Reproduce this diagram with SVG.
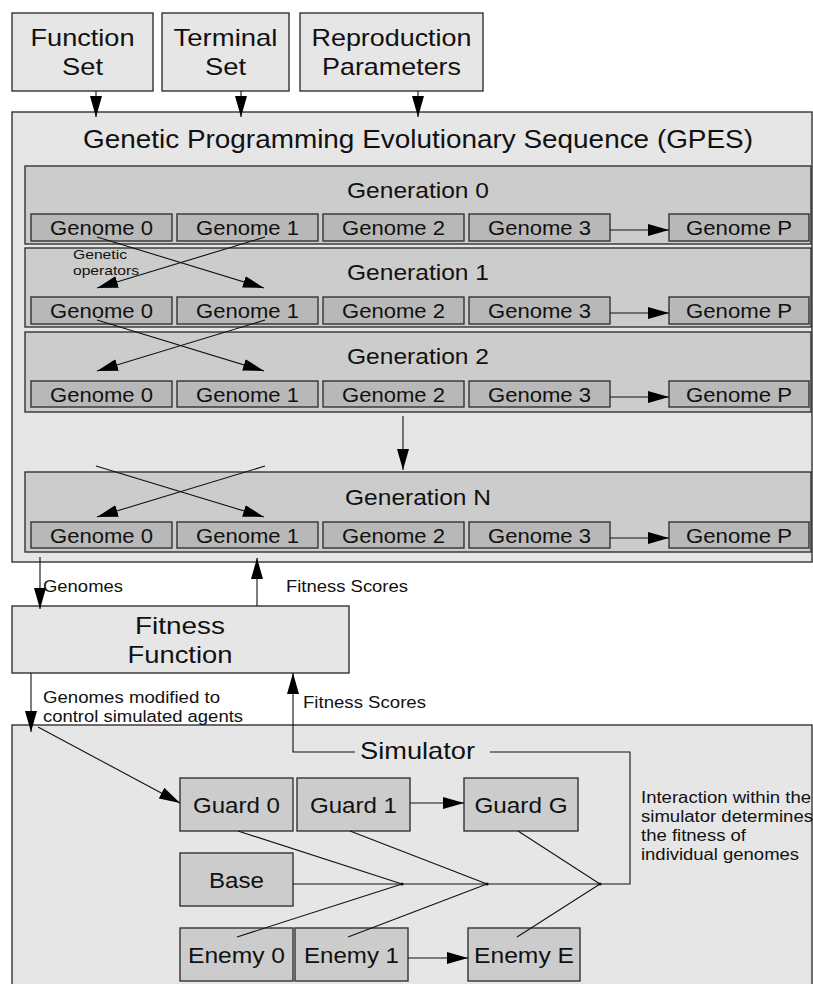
<svg xmlns="http://www.w3.org/2000/svg" width="813" height="984" viewBox="0 0 813 984">
<style>
text{font-family:"Liberation Sans",Arial,sans-serif;fill:#111;}
.box{fill:#e6e6e6;stroke:#333;stroke-width:1.4;}
.gen{fill:#cccccc;stroke:#333;stroke-width:1.4;}
.gnm{fill:#b8b8b8;stroke:#333;stroke-width:1.4;}
.agent{fill:#cccccc;stroke:#333;stroke-width:1.4;}
.t23{font-size:24px;text-anchor:middle;}
.t24{font-size:25px;text-anchor:middle;}
.t21{font-size:22px;text-anchor:middle;}
.t19{font-size:20px;text-anchor:middle;}
.lbl{font-size:16px;}
.small{font-size:13.5px;}
.c{fill:none;stroke:#111;stroke-width:1.1;}
.a{fill:none;stroke:#111;stroke-width:1.1;marker-end:url(#ah);}
</style>
<defs>
<marker id="ah" markerUnits="userSpaceOnUse" markerWidth="21" markerHeight="12" refX="21" refY="6" orient="auto">
<path d="M0,0 L21,6 L0,12 z" fill="#000"/>
</marker>
</defs>
<rect width="813" height="984" fill="#ffffff"/>

<g id="gpes">
<rect class="box" x="12" y="112" width="800" height="450"/>
<text class="t24" x="418" y="148" textLength="670" lengthAdjust="spacingAndGlyphs">Genetic Programming Evolutionary Sequence (GPES)</text>
</g>

<g id="simulator">
<rect class="box" x="12" y="725" width="800" height="270"/>
<text font-size="24" x="360" y="759" textLength="115" lengthAdjust="spacingAndGlyphs">Simulator</text>
</g>

<g id="function-set">
<rect class="box" x="12" y="13" width="141" height="78"/>
<text class="t23" x="82.5" y="46" textLength="104" lengthAdjust="spacingAndGlyphs">Function</text>
<text class="t23" x="82.5" y="75" textLength="41" lengthAdjust="spacingAndGlyphs">Set</text>
</g>
<g id="terminal-set">
<rect class="box" x="162" y="13" width="127" height="78"/>
<text class="t23" x="225.5" y="46" textLength="104" lengthAdjust="spacingAndGlyphs">Terminal</text>
<text class="t23" x="225.5" y="75" textLength="41" lengthAdjust="spacingAndGlyphs">Set</text>
</g>
<g id="reproduction-parameters">
<rect class="box" x="300" y="13" width="183" height="78"/>
<text class="t23" x="391.5" y="46" textLength="160" lengthAdjust="spacingAndGlyphs">Reproduction</text>
<text class="t23" x="391.5" y="75" textLength="139" lengthAdjust="spacingAndGlyphs">Parameters</text>
</g>

<g id="generation-0">
<rect class="gen" x="25" y="166" width="786" height="78"/>
<text class="t21" x="418" y="198" textLength="142" lengthAdjust="spacingAndGlyphs">Generation 0</text>
<rect class="gnm" x="31" y="214" width="141" height="27"/><text class="t19" x="101.5" y="235" textLength="103" lengthAdjust="spacingAndGlyphs">Genome 0</text>
<rect class="gnm" x="177" y="214" width="141" height="27"/><text class="t19" x="247.5" y="235" textLength="103" lengthAdjust="spacingAndGlyphs">Genome 1</text>
<rect class="gnm" x="323" y="214" width="141" height="27"/><text class="t19" x="393.5" y="235" textLength="103" lengthAdjust="spacingAndGlyphs">Genome 2</text>
<rect class="gnm" x="469" y="214" width="141" height="27"/><text class="t19" x="539.5" y="235" textLength="103" lengthAdjust="spacingAndGlyphs">Genome 3</text>
<rect class="gnm" x="669" y="214" width="140" height="27"/><text class="t19" x="739" y="235" textLength="106" lengthAdjust="spacingAndGlyphs">Genome P</text>
</g>

<g id="generation-1">
<rect class="gen" x="25" y="248" width="786" height="79"/>
<text class="t21" x="418" y="280" textLength="142" lengthAdjust="spacingAndGlyphs">Generation 1</text>
<rect class="gnm" x="31" y="297" width="141" height="27"/><text class="t19" x="101.5" y="318" textLength="103" lengthAdjust="spacingAndGlyphs">Genome 0</text>
<rect class="gnm" x="177" y="297" width="141" height="27"/><text class="t19" x="247.5" y="318" textLength="103" lengthAdjust="spacingAndGlyphs">Genome 1</text>
<rect class="gnm" x="323" y="297" width="141" height="27"/><text class="t19" x="393.5" y="318" textLength="103" lengthAdjust="spacingAndGlyphs">Genome 2</text>
<rect class="gnm" x="469" y="297" width="141" height="27"/><text class="t19" x="539.5" y="318" textLength="103" lengthAdjust="spacingAndGlyphs">Genome 3</text>
<rect class="gnm" x="669" y="297" width="140" height="27"/><text class="t19" x="739" y="318" textLength="106" lengthAdjust="spacingAndGlyphs">Genome P</text>
</g>

<g id="generation-2">
<rect class="gen" x="25" y="332" width="786" height="80"/>
<text class="t21" x="418" y="364" textLength="142" lengthAdjust="spacingAndGlyphs">Generation 2</text>
<rect class="gnm" x="31" y="381" width="141" height="26"/><text class="t19" x="101.5" y="401.5" textLength="103" lengthAdjust="spacingAndGlyphs">Genome 0</text>
<rect class="gnm" x="177" y="381" width="141" height="26"/><text class="t19" x="247.5" y="401.5" textLength="103" lengthAdjust="spacingAndGlyphs">Genome 1</text>
<rect class="gnm" x="323" y="381" width="141" height="26"/><text class="t19" x="393.5" y="401.5" textLength="103" lengthAdjust="spacingAndGlyphs">Genome 2</text>
<rect class="gnm" x="469" y="381" width="141" height="26"/><text class="t19" x="539.5" y="401.5" textLength="103" lengthAdjust="spacingAndGlyphs">Genome 3</text>
<rect class="gnm" x="669" y="381" width="140" height="26"/><text class="t19" x="739" y="401.5" textLength="106" lengthAdjust="spacingAndGlyphs">Genome P</text>
</g>

<g id="generation-n">
<rect class="gen" x="25" y="472" width="786" height="80"/>
<text class="t21" x="418" y="505" textLength="146" lengthAdjust="spacingAndGlyphs">Generation N</text>
<rect class="gnm" x="31" y="522" width="141" height="26"/><text class="t19" x="101.5" y="542.5" textLength="103" lengthAdjust="spacingAndGlyphs">Genome 0</text>
<rect class="gnm" x="177" y="522" width="141" height="26"/><text class="t19" x="247.5" y="542.5" textLength="103" lengthAdjust="spacingAndGlyphs">Genome 1</text>
<rect class="gnm" x="323" y="522" width="141" height="26"/><text class="t19" x="393.5" y="542.5" textLength="103" lengthAdjust="spacingAndGlyphs">Genome 2</text>
<rect class="gnm" x="469" y="522" width="141" height="26"/><text class="t19" x="539.5" y="542.5" textLength="103" lengthAdjust="spacingAndGlyphs">Genome 3</text>
<rect class="gnm" x="669" y="522" width="140" height="26"/><text class="t19" x="739" y="542.5" textLength="106" lengthAdjust="spacingAndGlyphs">Genome P</text>
</g>

<g id="fitness-function">
<rect class="box" x="12" y="606" width="337" height="67"/>
<text font-size="24.5" text-anchor="middle" x="180" y="634" textLength="90" lengthAdjust="spacingAndGlyphs">Fitness</text>
<text font-size="24.5" text-anchor="middle" x="180" y="663" textLength="105" lengthAdjust="spacingAndGlyphs">Function</text>
</g>

<g id="guard-0"><rect class="agent" x="180" y="778" width="113" height="53"/><text class="t21" x="236.5" y="812.5" textLength="87" lengthAdjust="spacingAndGlyphs">Guard 0</text></g>
<g id="guard-1"><rect class="agent" x="297" y="778" width="113" height="53"/><text class="t21" x="353.5" y="812.5" textLength="87" lengthAdjust="spacingAndGlyphs">Guard 1</text></g>
<g id="guard-g"><rect class="agent" x="464" y="778" width="114" height="53"/><text class="t21" x="521" y="812.5" textLength="93" lengthAdjust="spacingAndGlyphs">Guard G</text></g>
<g id="base"><rect class="agent" x="180" y="853" width="113" height="53"/><text class="t21" x="236.5" y="887.5" textLength="55" lengthAdjust="spacingAndGlyphs">Base</text></g>
<g id="enemy-0"><rect class="agent" x="180" y="928" width="113" height="53"/><text class="t21" x="236.5" y="962.5" textLength="97" lengthAdjust="spacingAndGlyphs">Enemy 0</text></g>
<g id="enemy-1"><rect class="agent" x="295" y="928" width="113" height="53"/><text class="t21" x="351.5" y="962.5" textLength="95" lengthAdjust="spacingAndGlyphs">Enemy 1</text></g>
<g id="enemy-e"><rect class="agent" x="468" y="928" width="112" height="53"/><text class="t21" x="524" y="962.5" textLength="100" lengthAdjust="spacingAndGlyphs">Enemy E</text></g>

<g id="connectors">
<line class="a" x1="96" y1="91" x2="96" y2="117"/>
<line class="a" x1="241" y1="91" x2="241" y2="117"/>
<line class="a" x1="418" y1="91" x2="418" y2="117"/>

<line class="a" x1="610" y1="230" x2="669" y2="230"/>
<line class="a" x1="610" y1="313" x2="669" y2="313"/>
<line class="a" x1="610" y1="397" x2="669" y2="397"/>
<line class="a" x1="610" y1="538" x2="669" y2="538"/>

<line class="a" x1="97" y1="237" x2="264" y2="288"/>
<line class="a" x1="265" y1="237" x2="97" y2="288"/>
<line class="a" x1="97" y1="320" x2="264" y2="371"/>
<line class="a" x1="265" y1="320" x2="97" y2="371"/>
<line class="a" x1="96" y1="466" x2="264" y2="517"/>
<line class="a" x1="265" y1="466" x2="97" y2="517"/>

<line class="a" x1="403" y1="416" x2="403" y2="470"/>

<line class="a" x1="40" y1="557" x2="40" y2="609"/>
<line class="a" x1="257" y1="606" x2="257" y2="558"/>
<line class="a" x1="31" y1="673" x2="31" y2="732"/>
<polyline class="a" points="355,752 293,752 293,673"/>
<polyline class="c" points="490,752 630,752 630,884 293,884"/>

<line class="a" x1="38" y1="727" x2="180" y2="803"/>
<line class="a" x1="410" y1="803" x2="464" y2="803"/>
<line class="a" x1="408" y1="958" x2="468" y2="958"/>

<polyline class="c" points="238,831 402,884 237,937"/>
<polyline class="c" points="350,831 487,884 348,937"/>
<polyline class="c" points="518,831 600,884 517,937"/>
<circle cx="402" cy="884" r="1.6" fill="#111"/>
<circle cx="487" cy="884" r="1.6" fill="#111"/>
<circle cx="600" cy="884" r="1.6" fill="#111"/>
</g>

<g id="labels">
<text class="small" x="73" y="259" textLength="54" lengthAdjust="spacingAndGlyphs">Genetic</text>
<text class="small" x="73" y="275" textLength="66" lengthAdjust="spacingAndGlyphs">operators</text>
<text class="lbl" x="43" y="592" textLength="80" lengthAdjust="spacingAndGlyphs">Genomes</text>
<text class="lbl" x="286" y="592" textLength="122" lengthAdjust="spacingAndGlyphs">Fitness Scores</text>
<text class="lbl" x="43" y="703" textLength="177" lengthAdjust="spacingAndGlyphs">Genomes modified to</text>
<text class="lbl" x="43" y="722" textLength="200" lengthAdjust="spacingAndGlyphs">control simulated agents</text>
<text class="lbl" x="303" y="708" textLength="123" lengthAdjust="spacingAndGlyphs">Fitness Scores</text>
<text class="lbl" x="641" y="803" textLength="170" lengthAdjust="spacingAndGlyphs">Interaction within the</text>
<text class="lbl" x="641" y="822" textLength="172" lengthAdjust="spacingAndGlyphs">simulator determines</text>
<text class="lbl" x="641" y="841" textLength="105" lengthAdjust="spacingAndGlyphs">the fitness of</text>
<text class="lbl" x="641" y="860" textLength="158" lengthAdjust="spacingAndGlyphs">individual genomes</text>
</g>
</svg>
